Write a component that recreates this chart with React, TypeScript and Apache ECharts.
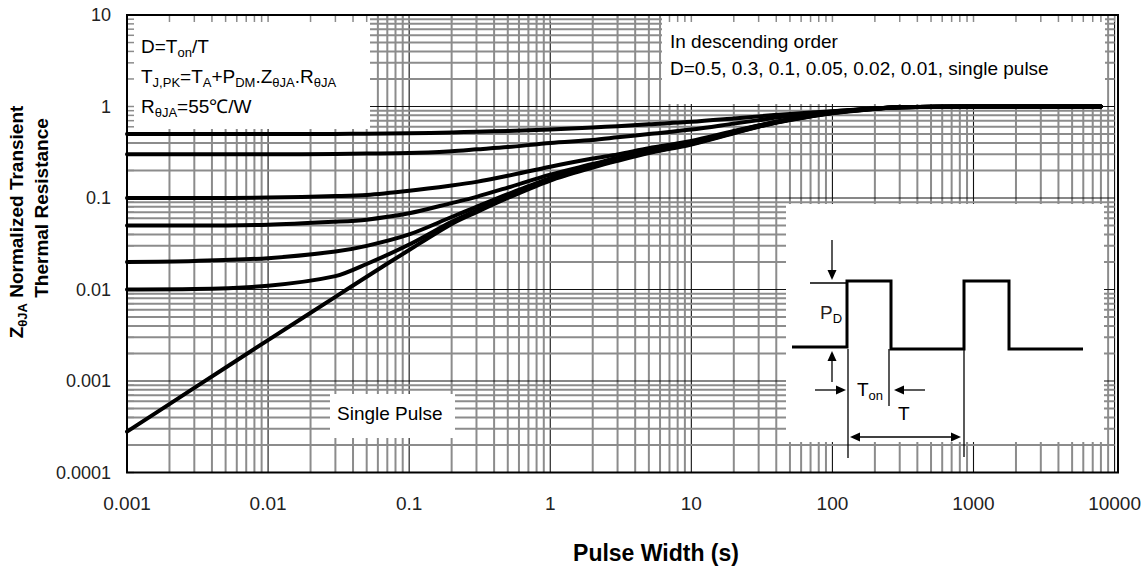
import React, { useEffect, useRef } from "react";
import * as echarts from "echarts";

const FONT = "'Liberation Sans', Arial, sans-serif";

// Pulse width (s)
const PULSE_WIDTH = [0.001, 0.003, 0.01, 0.03, 0.05, 0.1, 0.2, 0.3, 0.5, 1, 2, 3, 5, 10, 20, 30, 50, 100, 200, 300, 1000, 8000];

// Normalized transient thermal resistance for each duty cycle
const D_050 = [0.5, 0.5, 0.5, 0.502, 0.505, 0.51, 0.52, 0.53, 0.54, 0.56, 0.59, 0.61, 0.64, 0.68, 0.74, 0.78, 0.83, 0.89, 0.95, 0.98, 1.0, 1.0];
const D_030 = [0.3, 0.3, 0.3, 0.303, 0.306, 0.31, 0.325, 0.34, 0.36, 0.40, 0.43, 0.46, 0.5, 0.56, 0.65, 0.71, 0.79, 0.88, 0.95, 0.98, 1.0, 1.0];
const D_010 = [0.1, 0.1, 0.101, 0.105, 0.108, 0.12, 0.137, 0.15, 0.175, 0.22, 0.27, 0.3, 0.35, 0.42, 0.54, 0.62, 0.73, 0.86, 0.95, 0.98, 1.0, 1.0];
const D_005 = [0.05, 0.05, 0.051, 0.055, 0.058, 0.068, 0.088, 0.103, 0.13, 0.18, 0.235, 0.275, 0.33, 0.405, 0.53, 0.615, 0.725, 0.86, 0.95, 0.98, 1.0, 1.0];
const D_002 = [0.02, 0.0205, 0.022, 0.026, 0.03, 0.04, 0.062, 0.08, 0.11, 0.165, 0.225, 0.265, 0.32, 0.395, 0.52, 0.61, 0.72, 0.855, 0.945, 0.98, 1.0, 1.0];
const D_001 = [0.01, 0.0101, 0.011, 0.014, 0.019, 0.031, 0.055, 0.073, 0.103, 0.16, 0.22, 0.26, 0.315, 0.39, 0.515, 0.605, 0.715, 0.85, 0.945, 0.98, 1.0, 1.0];
const SINGLE = [0.00028, 0.00084, 0.0028, 0.0083, 0.0138, 0.027, 0.052, 0.07, 0.1, 0.155, 0.215, 0.255, 0.31, 0.385, 0.51, 0.6, 0.71, 0.845, 0.94, 0.98, 1.0, 1.0];

const CURVES = [D_050, D_030, D_010, D_005, D_002, D_001, SINGLE];
const CURVE_NAMES = ["D=0.5", "D=0.3", "D=0.1", "D=0.05", "D=0.02", "D=0.01", "Single Pulse"];

// Axis ticks / grid
const X_DECADES = [0.001, 0.01, 0.1, 1, 10, 100, 1000];
const Y_DECADES = [0.0001, 0.001, 0.01, 0.1, 1];
const MINOR_STEPS = [2, 3, 4, 5, 6, 7, 8, 9];
const X_TICK_LABELS = ["0.001", "0.01", "0.1", "1", "10", "100", "1000", "10000"];
const Y_TICK_LABELS = ["0.0001", "0.001", "0.01", "0.1", "1", "10"];

function gridValues(decades: number[]) {
  const out: number[][] = [];
  decades.forEach((d) => {
    out.push([d, 1]);
    MINOR_STEPS.forEach((m) => out.push([d * m, 0]));
  });
  out.push([decades[decades.length - 1] * 10, 1]);
  return out;
}

const GRID = { left: 127, top: 15, width: 991, height: 457.5 };

function buildOption() {
  const xGrid = gridValues(X_DECADES);
  const yGrid = gridValues(Y_DECADES);

  const vLines = {
    type: "custom",
    z: 1,
    silent: true,
    data: xGrid.map(([v, k]) => [v, 1, k]),
    encode: { x: 0, y: 1 },
    renderItem: (params: any, api: any) => {
      const cs = params.coordSys;
      const p = api.coord([api.value(0), 1]);
      const major = api.value(2) === 1;
      return {
        type: "line",
        shape: { x1: p[0], y1: cs.y, x2: p[0], y2: cs.y + cs.height },
        style: { stroke: major ? "#111" : "#8c8c8c", lineWidth: major ? 1.1 : 2 },
      };
    },
  };
  const hLines = {
    type: "custom",
    z: 1,
    silent: true,
    data: yGrid.map(([v, k]) => [1, v, k]),
    encode: { x: 0, y: 1 },
    renderItem: (params: any, api: any) => {
      const cs = params.coordSys;
      const p = api.coord([1, api.value(1)]);
      const major = api.value(2) === 1;
      return {
        type: "line",
        shape: { x1: cs.x, y1: p[1], x2: cs.x + cs.width, y2: p[1] },
        style: { stroke: major ? "#111" : "#8c8c8c", lineWidth: major ? 1.1 : 2 },
      };
    },
  };
  // short inside ticks on top and left edges (visible over the text boxes)
  const topTicks = {
    type: "custom",
    z: 4,
    silent: true,
    data: xGrid.map(([v, k]) => [v, 1, k]),
    encode: { x: 0, y: 1 },
    renderItem: (params: any, api: any) => {
      const cs = params.coordSys;
      const p = api.coord([api.value(0), 1]);
      return {
        type: "line",
        shape: { x1: p[0], y1: cs.y, x2: p[0], y2: cs.y + 7 },
        style: { stroke: "#8c8c8c", lineWidth: 1.5 },
      };
    },
  };
  const leftTicks = {
    type: "custom",
    z: 4,
    silent: true,
    data: yGrid.map(([v, k]) => [1, v, k]),
    encode: { x: 0, y: 1 },
    renderItem: (params: any, api: any) => {
      const cs = params.coordSys;
      const p = api.coord([1, api.value(1)]);
      return {
        type: "line",
        shape: { x1: cs.x, y1: p[1], x2: cs.x + 7, y2: p[1] },
        style: { stroke: "#8c8c8c", lineWidth: 1.5 },
      };
    },
  };

  const curveSeries = CURVES.map((vals, i) => ({
    name: CURVE_NAMES[i],
    type: "line",
    z: 10,
    data: PULSE_WIDTH.map((x, j) => [x, vals[j]]),
    showSymbol: false,
    smooth: 0.3,
    lineStyle: { color: "#000", width: 4, join: "round", cap: "round" },
    silent: true,
  }));

  const sub = (size: number, bold = false) => ({
    fontSize: size,
    fontFamily: FONT,
    fontWeight: bold ? "bold" : "normal",
    fill: "#000",
    verticalAlign: "bottom",
    lineHeight: 26,
  });

  const txt = (x: number, y: number, text: string, size = 19, extra: any = {}) => ({
    type: "text",
    x,
    y,
    z: 12,
    style: {
      text,
      fontSize: size,
      fontFamily: FONT,
      fill: "#000",
      align: "left",
      verticalAlign: "middle",
      lineHeight: 26,
      rich: { s: sub(13) },
      ...extra,
    },
  });

  const box = (x: number, y: number, w: number, h: number) => ({
    type: "rect",
    z: 3,
    shape: { x, y, width: w, height: h },
    style: { fill: "#fff", stroke: "none" },
    silent: true,
  });

  const ln = (x1: number, y1: number, x2: number, y2: number, w = 1.3) => ({
    type: "line",
    z: 12,
    shape: { x1, y1, x2, y2 },
    style: { stroke: "#000", lineWidth: w },
  });
  const head = (pts: number[][]) => ({
    type: "polygon",
    z: 12,
    shape: { points: pts },
    style: { fill: "#000", stroke: "none" },
  });

  const graphics: any[] = [
    box(128, 16, 242, 113),
    box(662, 16, 443, 88),
    box(786, 204, 318, 238),
    box(330, 394, 125, 44),

    txt(141, 46, "D=T{s|on}/T"),
    txt(141, 76, "T{s|J,PK}=T{s|A}+P{s|DM}.Z{s|θJA}.R{s|θJA}"),
    txt(141, 106, "R{s|θJA}=55℃/W"),
    txt(670, 41, "In descending order"),
    txt(670, 68, "D=0.5, 0.3, 0.1, 0.05, 0.02, 0.01, single pulse"),
    txt(337, 413, "Single Pulse"),

    // inset pulse diagram
    {
      type: "polyline",
      z: 12,
      shape: {
        points: [
          [792, 347], [847, 347], [847, 281], [891, 281], [891, 349], [964, 349],
          [964, 281], [1009, 281], [1009, 349], [1083, 349],
        ],
      },
      style: { stroke: "#000", lineWidth: 3, fill: "none" },
    },
    ln(810, 283, 847, 283),
    ln(832, 240, 832, 272),
    head([[827.5, 270], [836.5, 270], [832, 280]]),
    ln(832, 382, 832, 359),
    head([[827.5, 361], [836.5, 361], [832, 351]]),
    ln(848, 349, 848, 458),
    ln(889, 349, 889, 406),
    ln(964, 349, 964, 457),
    ln(815, 390, 838, 390),
    head([[836, 385.5], [836, 394.5], [846, 390]]),
    ln(925, 390, 902, 390),
    head([[904, 385.5], [904, 394.5], [894, 390]]),
    ln(858, 437, 953, 437),
    head([[860, 432.5], [860, 441.5], [850, 437]]),
    head([[951, 432.5], [951, 441.5], [961, 437]]),
    txt(820, 312, "P{s|D}", 19, { fill: "#2a2020" }),
    txt(857, 389, "T{s|on}"),
    txt(898, 413, "T"),

    // plot frame
    {
      type: "rect",
      z: 20,
      shape: { x: GRID.left, y: GRID.top, width: GRID.width, height: GRID.height },
      style: { fill: "none", stroke: "#000", lineWidth: 2 },
      silent: true,
    },

    // axis titles
    {
      type: "text",
      x: 16,
      y: 222,
      rotation: Math.PI / 2,
      z: 12,
      style: {
        text: "Z{s|θJA} Normalized Transient",
        fontSize: 19,
        fontWeight: "bold",
        fontFamily: FONT,
        fill: "#000",
        align: "center",
        verticalAlign: "middle",
        lineHeight: 26,
        rich: { s: sub(13, true) },
      },
    },
    {
      type: "text",
      x: 41,
      y: 208,
      rotation: Math.PI / 2,
      z: 12,
      style: {
        text: "Thermal Resistance",
        fontSize: 19,
        fontWeight: "bold",
        fontFamily: FONT,
        fill: "#000",
        align: "center",
        verticalAlign: "middle",
      },
    },
    {
      type: "text",
      x: 656,
      y: 553,
      z: 12,
      style: {
        text: "Pulse Width (s)",
        fontSize: 23,
        fontWeight: "bold",
        fontFamily: FONT,
        fill: "#000",
        align: "center",
        verticalAlign: "middle",
      },
    },
  ];

  return {
    animation: false,
    backgroundColor: "#fff",
    grid: { ...GRID, containLabel: false },
    xAxis: {
      type: "log",
      logBase: 10,
      min: 0.001,
      max: 10000,
      axisLine: { show: false },
      axisTick: { show: false },
      splitLine: { show: false },
      axisLabel: {
        margin: 21,
        fontSize: 19,
        fontFamily: FONT,
        color: "#222",
        formatter: (v: number) => X_TICK_LABELS[Math.round(Math.log10(v)) + 3] ?? String(v),
      },
    },
    yAxis: {
      type: "log",
      logBase: 10,
      min: 0.0001,
      max: 10,
      axisLine: { show: false },
      axisTick: { show: false },
      splitLine: { show: false },
      axisLabel: {
        margin: 16,
        fontSize: 18,
        fontFamily: FONT,
        color: "#222",
        formatter: (v: number) => Y_TICK_LABELS[Math.round(Math.log10(v)) + 4] ?? String(v),
      },
    },
    series: [vLines, hLines, topTicks, leftTicks, ...curveSeries],
    graphic: { elements: graphics },
  };
}

export default function App() {
  const ref = useRef<HTMLDivElement>(null);
  useEffect(() => {
    document.body.style.margin = "0";
    const chart = echarts.init(ref.current!, null, { renderer: "svg" });
    chart.setOption(buildOption() as any);
    return () => chart.dispose();
  }, []);
  return <div ref={ref} style={{ width: 1144, height: 567 }} />;
}
